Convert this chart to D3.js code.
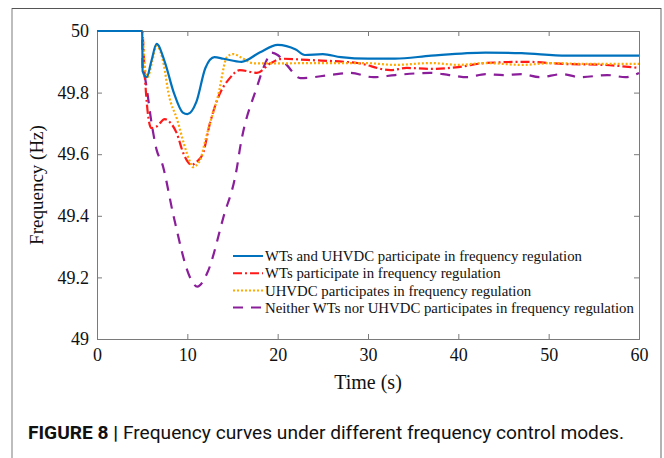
<!DOCTYPE html>
<html>
<head>
<meta charset="utf-8">
<script src="https://cdn.jsdelivr.net/npm/d3@7"></script>
<style>
  html, body { margin: 0; padding: 0; background: #fff; }
  svg { display: block; }
</style>
</head>
<body>
<div id="chart"></div>
<script>
// ---- data ----
const xTicks = [0, 10, 20, 30, 40, 50, 60];
const yTicks = [49, 49.2, 49.4, 49.6, 49.8, 50];
const yTickLabels = ["49", "49.2", "49.4", "49.6", "49.8", "50"];

const seriesNames = [
  "WTs and UHVDC participate in frequency regulation",
  "WTs participate in frequency regulation",
  "UHVDC participates in frequency regulation",
  "Neither WTs nor UHVDC participates in frequency regulation"
];

// [time s, frequency Hz]
const bothData = [
  [0, 50], [5, 50], [5.05, 49.87], [5.5, 49.85], [6.0, 49.9], [6.6, 49.958],
  [7.5, 49.9], [8.5, 49.8], [9.5, 49.735], [10, 49.73], [11, 49.77], [12, 49.88],
  [13, 49.915], [14, 49.91], [16, 49.9], [18, 49.93], [20, 49.955], [22, 49.94],
  [23, 49.922], [25, 49.925], [27, 49.915], [30, 49.91], [33, 49.91], [37, 49.92],
  [43, 49.93], [47, 49.928], [52, 49.92], [60, 49.92]
];
const wtData = [
  [0, 50], [5, 50], [5.3, 49.85], [5.6, 49.74], [6.0, 49.685], [6.6, 49.69],
  [7.5, 49.714], [8.1, 49.703], [8.8, 49.67], [9.6, 49.6], [10.5, 49.565],
  [11.0, 49.575], [11.7, 49.6], [12.5, 49.7], [13.3, 49.776], [14.7, 49.847],
  [15.8, 49.873], [17.7, 49.864], [19.2, 49.895], [20.5, 49.91], [23.3, 49.906],
  [28.8, 49.896], [32.5, 49.873], [34.3, 49.88], [36.9, 49.877], [40, 49.883],
  [43, 49.896], [47.6, 49.9], [51.6, 49.893], [56, 49.89], [60, 49.88]
];
const uhvdcData = [
  [0, 50], [5, 50], [5.3, 49.88], [5.6, 49.85], [6.1, 49.9], [6.6, 49.952],
  [7.4, 49.89], [7.9, 49.8], [8.9, 49.71], [9.6, 49.636], [10.3, 49.575],
  [10.6, 49.558], [11.4, 49.58], [12.0, 49.646], [12.5, 49.7], [13.4, 49.79],
  [14.4, 49.916], [15.1, 49.925], [16.2, 49.91], [17.3, 49.895], [20, 49.895],
  [25, 49.896], [29.5, 49.896], [33, 49.89], [37, 49.896], [40, 49.89],
  [43, 49.896], [47, 49.89], [50.5, 49.896], [54, 49.893], [60, 49.893]
];
const neitherData = [
  [0, 50], [5, 50], [5.05, 49.88], [5.3, 49.85], [6.1, 49.69], [6.6, 49.614],
  [7.2, 49.571], [8.5, 49.396], [10.3, 49.2], [11.1, 49.17], [12.2, 49.214],
  [14, 49.396], [15.5, 49.558], [15.8, 49.614], [17.7, 49.818], [18.7, 49.9],
  [19.3, 49.93], [20, 49.922], [21, 49.89], [22.5, 49.847], [25.8, 49.857],
  [28, 49.864], [30.6, 49.85], [33, 49.857], [36.9, 49.864], [39, 49.857],
  [41, 49.85], [43, 49.86], [45, 49.857], [47, 49.86], [49, 49.85], [51.5, 49.86],
  [53.5, 49.85], [56.5, 49.857], [58.5, 49.85], [60, 49.864]
];

const seriesData = [bothData, wtData, uhvdcData, neitherData];
const seriesColors = ["#0072BD", "#FF1A1A", "#FFAA00", "#8B1E9A"];
const seriesDash = [null, "9,3,2,3", "2,2", "10,8"];

// ---- layout ----
const W = 664, H = 458;
const plot = { left: 97, right: 639, top: 31, bottom: 339 };

const svg = d3.select("#chart").append("svg")
  .attr("width", W).attr("height", H);

// outer figure frame
svg.append("line").attr("x1", 12).attr("x2", 12).attr("y1", 8).attr("y2", H)
  .attr("stroke", "#bdbdbd").attr("stroke-width", 2);
svg.append("line").attr("x1", 661).attr("x2", 661).attr("y1", 8).attr("y2", H)
  .attr("stroke", "#9a9a9a").attr("stroke-width", 1.5);
svg.append("line").attr("x1", 12).attr("x2", 661).attr("y1", 8.5).attr("y2", 8.5)
  .attr("stroke", "#555").attr("stroke-width", 1.2);

const x = d3.scaleLinear().domain([0, 60]).range([plot.left, plot.right]);
const y = d3.scaleLinear().domain([49, 50]).range([plot.bottom, plot.top]);

const axisColor = "#7a7a7a";
const serif = "'Liberation Serif', 'Times New Roman', serif";

// axes (ticks pointing inward) + mirrored box
const gx = svg.append("g").attr("transform", `translate(0,${plot.bottom})`)
  .call(d3.axisBottom(x).tickValues(xTicks).tickSize(-5).tickPadding(9).tickFormat(d3.format("d")));
const gxt = svg.append("g").attr("transform", `translate(0,${plot.top})`)
  .call(d3.axisTop(x).tickValues(xTicks).tickSize(-5).tickFormat(""));
const gy = svg.append("g").attr("transform", `translate(${plot.left},0)`)
  .call(d3.axisLeft(y).tickValues(yTicks).tickSize(-5).tickPadding(8)
    .tickFormat((d, i) => yTickLabels[i]));
const gyr = svg.append("g").attr("transform", `translate(${plot.right},0)`)
  .call(d3.axisRight(y).tickValues(yTicks).tickSize(-5).tickFormat(""));

[gx, gxt, gy, gyr].forEach(g => {
  g.select(".domain").attr("stroke", axisColor);
  g.selectAll(".tick line").attr("stroke", axisColor);
  g.selectAll("text").attr("font-family", serif).attr("font-size", 18).attr("fill", "#111");
});
gx.selectAll("text").attr("dy", "0.71em");

// series
const line = d3.line().x(d => x(d[0])).y(d => y(d[1])).curve(d3.curveMonotoneX);

const g = svg.append("g");
// draw in order so blue is on top like the reference
[3, 1, 2, 0].forEach(i => {
  g.append("path")
    .datum(seriesData[i])
    .attr("d", line)
    .attr("fill", "none")
    .attr("stroke", seriesColors[i])
    .attr("stroke-width", 2.2)
    .attr("stroke-dasharray", seriesDash[i])
    .attr("stroke-linejoin", "round");
});

// legend
const leg = svg.append("g").attr("transform", "translate(233,256)");
seriesNames.forEach((name, i) => {
  const row = leg.append("g").attr("transform", `translate(0,${i * 17.2})`);
  row.append("line").attr("x1", 0).attr("x2", 30).attr("y1", 0).attr("y2", 0)
    .attr("stroke", seriesColors[i]).attr("stroke-width", 2)
    .attr("stroke-dasharray", seriesDash[i]);
  row.append("text").attr("x", 32).attr("y", 0).attr("dy", "0.35em")
    .attr("font-family", serif).attr("font-size", 14.8).attr("fill", "#111")
    .text(name);
});

// axis titles
svg.append("text").attr("x", (plot.left + plot.right) / 2).attr("y", 389)
  .attr("text-anchor", "middle").attr("font-family", serif).attr("font-size", 20)
  .attr("fill", "#111").text("Time (s)");
svg.append("text").attr("transform", `translate(43,${(plot.top + plot.bottom) / 2}) rotate(-90)`)
  .attr("text-anchor", "middle").attr("font-family", serif).attr("font-size", 19)
  .attr("fill", "#111").text("Frequency (Hz)");

// caption
const cap = svg.append("text").attr("x", 28).attr("y", 439)
  .attr("font-family", "Roboto, 'Liberation Sans', sans-serif").attr("font-size", 19)
  .attr("fill", "#111")
  .attr("textLength", 596).attr("lengthAdjust", "spacingAndGlyphs");
cap.append("tspan").attr("font-weight", "bold").text("FIGURE 8 | ");
cap.append("tspan").text("Frequency curves under different frequency control modes.");
</script>
</body>
</html>
